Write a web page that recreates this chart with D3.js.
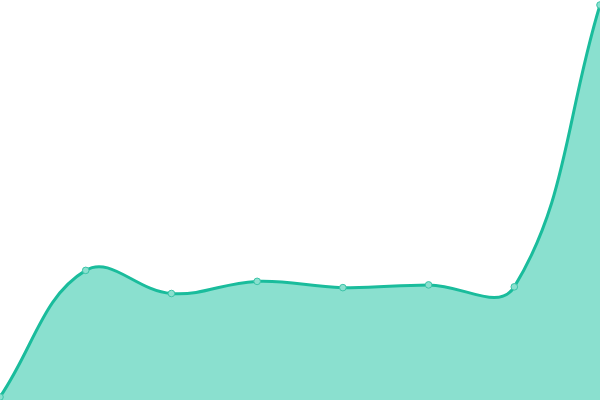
<!DOCTYPE html>
<html>
<head>
<meta charset="utf-8">
<script src="https://cdn.jsdelivr.net/npm/d3@7"></script>
<style>
  html, body { margin: 0; padding: 0; background: #fff; }
  svg { display: block; }
</style>
</head>
<body>
<div id="chart"></div>
<script>
// DATA //
var categories = [ 'P1', 'P2', 'P3', 'P4', 'P5', 'P6', 'P7', 'P8' ];
var values = [ 0, 32.3, 26.4, 29.5, 27.9, 28.6, 28.1, 100 ];
var yDomain = [ 0, 100 ];

var W = 600,
	H = 400;

// Spline curve (tension-based, as in a canvas chart lib):
function splineCurve( context ) {
	return new Spline( context, 0.4 );
}
function Spline( context, t ) {
	this._context = context;
	this._t = t;
}
Spline.prototype = {
	areaStart: function() { this._line = 0; },
	areaEnd: function() { this._line = NaN; },
	lineStart: function() { this._pts = []; },
	point: function( x, y ) { this._pts.push( [ +x, +y ] ); },
	lineEnd: function() {
		var p = this._pts,
			n = p.length,
			c = this._context,
			t = this._t,
			cps, i;
		function clamp( v, lo, hi ) { return Math.max( lo, Math.min( hi, v ) ); }
		if ( n ) {
			if ( this._line ) c.lineTo( p[0][0], p[0][1] );
			else c.moveTo( p[0][0], p[0][1] );
			cps = p.map( function( cur, i ) {
				var prev = p[ Math.max( i-1, 0 ) ],
					next = p[ Math.min( i+1, n-1 ) ],
					d01 = Math.hypot( cur[0]-prev[0], cur[1]-prev[1] ),
					d12 = Math.hypot( next[0]-cur[0], next[1]-cur[1] ),
					s = d01 + d12,
					fa = s ? t*d01/s : 0,
					fb = s ? t*d12/s : 0,
					vx = next[0] - prev[0],
					vy = next[1] - prev[1];
				return {
					prev: [ clamp( cur[0]-fa*vx, 0, W ), clamp( cur[1]-fa*vy, 0, H ) ],
					next: [ clamp( cur[0]+fb*vx, 0, W ), clamp( cur[1]+fb*vy, 0, H ) ]
				};
			});
			for ( i = 1; i < n; i++ ) {
				c.bezierCurveTo( cps[i-1].next[0], cps[i-1].next[1], cps[i].prev[0], cps[i].prev[1], p[i][0], p[i][1] );
			}
		}
		if ( this._line || ( this._line !== 0 && n === 1 ) ) c.closePath();
		this._line = 1 - this._line;
	}
};

var x = d3.scalePoint()
	.domain( categories )
	.range( [ 0, W ] );

var y = d3.scaleLinear()
	.domain( yDomain )
	.range( [ 397, 5 ] );

var data = categories.map( function( d, i ) {
	return { c: d, v: values[ i ] };
});

var svg = d3.select( '#chart' ).append( 'svg' )
	.attr( 'width', W )
	.attr( 'height', H )
	.attr( 'viewBox', '0 0 ' + W + ' ' + H );

var area = d3.area()
	.x( function( d ) { return x( d.c ); } )
	.y0( H )
	.y1( function( d ) { return y( d.v ); } )
	.curve( splineCurve );

var line = d3.line()
	.x( function( d ) { return x( d.c ); } )
	.y( function( d ) { return y( d.v ); } )
	.curve( splineCurve );

svg.append( 'path' )
	.datum( data )
	.attr( 'd', area )
	.attr( 'fill', '#8ae0cf' );

svg.append( 'path' )
	.datum( data )
	.attr( 'd', line )
	.attr( 'fill', 'none' )
	.attr( 'stroke', '#1abc9c' )
	.attr( 'stroke-width', 3 );

svg.selectAll( 'circle.pt' )
	.data( data )
  .enter().append( 'circle' )
	.attr( 'class', 'pt' )
	.attr( 'cx', function( d ) { return x( d.c ); } )
	.attr( 'cy', function( d ) { return y( d.v ); } )
	.attr( 'r', 3.3 )
	.attr( 'fill', '#8ae0cf' )
	.attr( 'stroke', '#3cc4a8' )
	.attr( 'stroke-width', 1 );
</script>
</body>
</html>
